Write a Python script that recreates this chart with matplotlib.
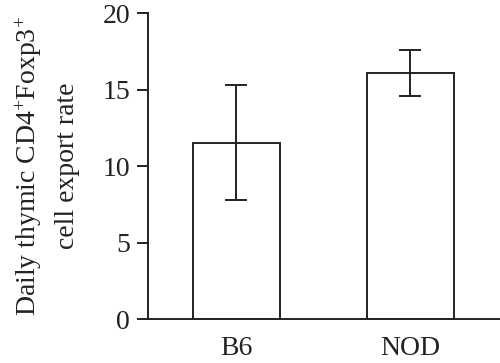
import matplotlib
matplotlib.use("Agg")
import matplotlib.pyplot as plt

groups = ["B6", "NOD"]
means = [11.5, 16.1]
err_low = [3.75, 1.55]
err_high = [3.8, 1.5]

plt.rcParams['font.family'] = ['Liberation Serif', 'DejaVu Serif']
plt.rcParams['mathtext.fontset'] = 'custom'
plt.rcParams['mathtext.rm'] = 'Liberation Serif'
plt.rcParams['mathtext.default'] = 'regular'

ink = '#222222'
fig = plt.figure(figsize=(5, 3.63), dpi=100)
ax = fig.add_axes([0.296, 0.121, 0.704, 0.843])

x = list(range(len(groups)))
ax.bar(x, means, width=0.5, color='white', edgecolor=ink, linewidth=1.4,
       yerr=[err_low, err_high], capsize=8,
       error_kw=dict(ecolor=ink, elinewidth=1.4, capthick=1.4))

ax.set_ylim(0, 20)
ax.set_xlim(-0.506, 1.517)
ax.set_yticks([0, 5, 10, 15, 20])
ax.set_xticks(x)
ax.set_xticklabels(groups)
ax.tick_params(axis='y', length=8, width=1.4, color=ink, labelsize=20, labelcolor=ink, pad=5)
ax.tick_params(axis='x', length=0, labelsize=20, labelcolor=ink, pad=12)
for s in ['top', 'right']:
    ax.spines[s].set_visible(False)
for s in ['left', 'bottom']:
    ax.spines[s].set_linewidth(1.4)
    ax.spines[s].set_color(ink)

ax.set_ylabel('Daily thymic CD4$^{+}$Foxp3$^{+}$\ncell export rate', fontsize=20,
              color=ink, linespacing=1.6, labelpad=16)

fig.savefig('out.png', dpi=100)
